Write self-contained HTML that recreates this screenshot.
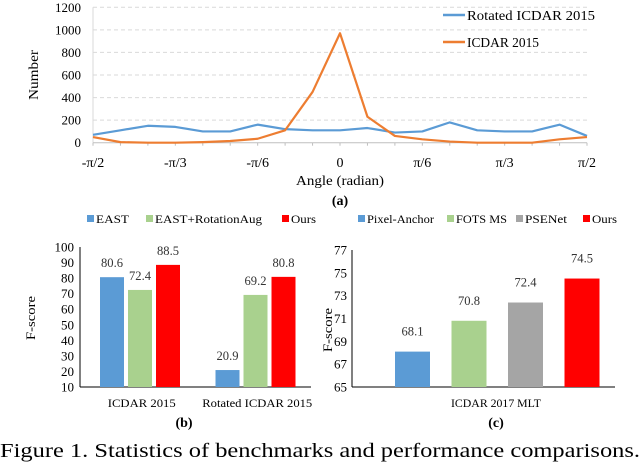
<!DOCTYPE html>
<html><head><meta charset="utf-8"><style>
body{margin:0;background:#fff}
svg{display:block;font-family:"Liberation Serif","Times New Roman",Times,serif}
</style></head><body>
<svg id="s" width="640" height="462" xmlns="http://www.w3.org/2000/svg"></svg>
<script>
const angleTicks=["-π/2","-π/3","-π/6","0","π/6","π/3","π/2"];
const rotatedCounts=[70,110,150,140,100,100,160,120,110,110,130,90,100,180,110,100,100,160,60];
const icdarCounts=[50,5,0,0,5,15,35,110,450,970,230,60,30,10,0,0,0,30,50];
const yTicksA=[0,200,400,600,800,1000,1200];
const catsB=["ICDAR 2015","Rotated ICDAR 2015"];
const eastB=[80.6,20.9];
const eastAugB=[72.4,69.2];
const oursB=[88.5,80.8];
const yTicksB=[10,20,30,40,50,60,70,80,90,100];
const methodsC=["Pixel-Anchor","FOTS MS","PSENet","Ours"];
const valuesC=[68.1,70.8,72.4,74.5];
const yTicksC=[65,67,69,71,73,75,77];

const s=document.getElementById('s');
function el(tag,attrs,text){const e=document.createElementNS('http://www.w3.org/2000/svg',tag);for(const k in attrs)e.setAttribute(k,attrs[k]);if(text!==undefined)e.textContent=text;s.appendChild(e);return e;}
const tl=v=>String(v).length*6.5;

// Chart A
const ax0=93,ax1=587,ay0=142.7,ay1=7.3;
const xA=i=>ax0+(ax1-ax0)*i/(rotatedCounts.length-1);
const yA=v=>ay0+(ay1-ay0)*v/1200;
yTicksA.forEach(v=>{
 if(v>0){const g=el('line',{x1:ax0,x2:ax1,y1:yA(v),y2:yA(v),stroke:'#d9d9d9','stroke-dasharray':'4,3'});
 }
 const t=el('text',{x:81,y:yA(v)+4.5,'text-anchor':'end','font-size':13,textLength:tl(v),lengthAdjust:'spacingAndGlyphs'},v);
 
});
let e=el('line',{x1:ax0,x2:ax0,y1:ay0,y2:ay1,stroke:'#d9d9d9'});

e=el('line',{x1:ax0,x2:ax1,y1:ay0,y2:ay0,stroke:'#bfbfbf'});

rotatedCounts.forEach((_,i)=>{const t=el('line',{x1:xA(i),x2:xA(i),y1:ay0,y2:ay0+3,stroke:'#bfbfbf'});
 });
angleTicks.forEach((l,i)=>{const t=el('text',{x:ax0+(ax1-ax0)*i/6,y:167,'text-anchor':'middle','font-size':14},l);
 });
function line(arr,c,name){const p=el('polyline',{points:arr.map((v,i)=>xA(i)+','+yA(v)).join(' '),fill:'none',stroke:c,'stroke-width':2.2,'stroke-linejoin':'round'});
 }
line(rotatedCounts,'#5b9bd5','rotated-icdar-line');
line(icdarCounts,'#ed7d31','icdar-line');
e=el('text',{x:340,y:185,'text-anchor':'middle','font-size':14,textLength:88,lengthAdjust:'spacingAndGlyphs'},'Angle (radian)');

e=el('text',{x:0,y:0,'text-anchor':'middle','font-size':14,transform:'translate(38,75) rotate(-90)',textLength:50,lengthAdjust:'spacingAndGlyphs'},'Number');

e=el('line',{x1:443,x2:465,y1:15,y2:15,stroke:'#5b9bd5','stroke-width':2.5});

e=el('text',{x:467,y:20,'font-size':14,textLength:128,lengthAdjust:'spacingAndGlyphs'},'Rotated ICDAR 2015');

e=el('line',{x1:443,x2:465,y1:42,y2:42,stroke:'#ed7d31','stroke-width':2.5});

e=el('text',{x:467,y:47,'font-size':14,textLength:72,lengthAdjust:'spacingAndGlyphs'},'ICDAR 2015');

e=el('text',{x:340,y:205,'text-anchor':'middle','font-size':14,'font-weight':'bold'},'(a)');


// Legends bottom
const legs=[[88,'#5b9bd5','EAST',33],[147,'#a9d18e','EAST+RotationAug',107],[283,'#ff0000','Ours',25],[359,'#5b9bd5','Pixel-Anchor',67],[448,'#a9d18e','FOTS MS',51],[517,'#a5a5a5','PSENet',42],[584,'#ff0000','Ours',25]];
legs.forEach(l=>{let r=el('rect',{x:l[0]-1,y:215,width:7,height:7,fill:l[1]});
 
 let t=el('text',{x:l[0]+8,y:223,'font-size':12,textLength:l[3],lengthAdjust:'spacingAndGlyphs'},l[2]);
 });

// Chart B
const bx0=80,bx1=311,by0=387,by1=247;
const yB=v=>by0+(by1-by0)*(v-10)/90;
yTicksB.forEach(v=>{const t=el('text',{x:74,y:yB(v)+4.5,'text-anchor':'end','font-size':13,textLength:tl(v),lengthAdjust:'spacingAndGlyphs'},v);
 });
e=el('line',{x1:bx0,x2:bx0,y1:by0,y2:by1,stroke:'#000'});

e=el('line',{x1:bx0,x2:bx1,y1:by0,y2:by0,stroke:'#000'});

const gw=(bx1-bx0)/catsB.length, bw=24;
[[eastB,'#5b9bd5','bar-east'],[eastAugB,'#a9d18e','bar-east-aug'],[oursB,'#ff0000','bar-ours']].forEach((sr,j)=>{
 sr[0].forEach((v,i)=>{const x=bx0+gw*i+20+j*28;
  const r=el('rect',{x:x,y:yB(v),width:bw,height:by0-yB(v),fill:sr[1]});
  
  const t=el('text',{x:x+bw/2,y:yB(v)-10,'text-anchor':'middle','font-size':13,fill:'#333',textLength:22,lengthAdjust:'spacingAndGlyphs'},v);
  });});
const lwB=[68,110];
catsB.forEach((c,i)=>{const t=el('text',{x:bx0+gw*i+gw/2+4,y:407,'text-anchor':'middle','font-size':12,textLength:lwB[i],lengthAdjust:'spacingAndGlyphs'},c);
 });
e=el('text',{x:0,y:0,'text-anchor':'middle','font-size':13,transform:'translate(35,318) rotate(-90)',textLength:44,lengthAdjust:'spacingAndGlyphs'},'F-score');

e=el('text',{x:184,y:427,'text-anchor':'middle','font-size':14,'font-weight':'bold'},'(b)');


// Chart C
const cx0=352,cx1=615,cy0=387,cy1=250;
const yC=v=>cy0+(cy1-cy0)*(v-65)/12;
yTicksC.forEach(v=>{const t=el('text',{x:347,y:yC(v)+4.5,'text-anchor':'end','font-size':13,textLength:tl(v),lengthAdjust:'spacingAndGlyphs'},v);
 });
e=el('line',{x1:cx0,x2:cx0,y1:cy0,y2:cy1,stroke:'#000'});

e=el('line',{x1:cx0,x2:cx1,y1:cy0,y2:cy0,stroke:'#000'});

const colC=['#5b9bd5','#a9d18e','#a5a5a5','#ff0000'];
valuesC.forEach((v,i)=>{const w=35;
 const xx=395+i*56.5;
 const r=el('rect',{x:xx,y:yC(v),width:w,height:cy0-yC(v),fill:colC[i]});
 
 const t=el('text',{x:xx+w/2,y:yC(v)-16,'text-anchor':'middle','font-size':13,fill:'#333',textLength:22,lengthAdjust:'spacingAndGlyphs'},v);
 });
e=el('text',{x:496,y:407,'text-anchor':'middle','font-size':12,textLength:90,lengthAdjust:'spacingAndGlyphs'},'ICDAR 2017 MLT');

e=el('text',{x:0,y:0,'text-anchor':'middle','font-size':13,transform:'translate(332,330) rotate(-90)',textLength:44,lengthAdjust:'spacingAndGlyphs'},'F-score');

e=el('text',{x:496,y:427,'text-anchor':'middle','font-size':14,'font-weight':'bold'},'(c)');


e=el('text',{x:0,y:457,'font-size':20,textLength:640,lengthAdjust:'spacingAndGlyphs'},'Figure 1. Statistics of benchmarks and performance comparisons.');

</script>
</body></html>
